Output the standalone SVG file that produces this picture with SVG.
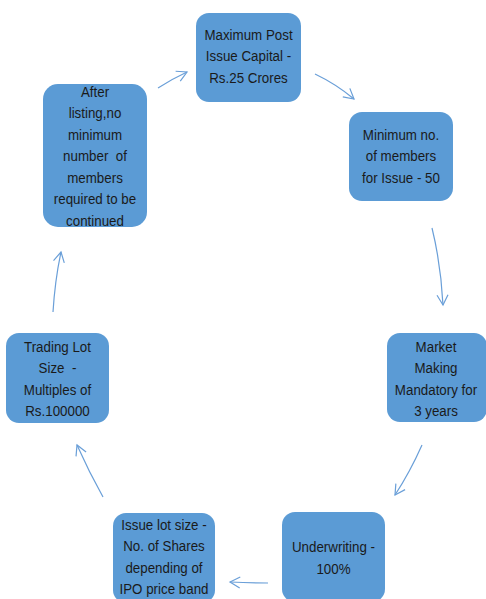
<svg xmlns="http://www.w3.org/2000/svg" width="486" height="599" viewBox="0 0 486 599">
<style>
.box{fill:#5B9BD5;}
.lbl{font-family:"Liberation Sans",Arial,sans-serif;font-size:15px;fill:#1a1a1a;text-anchor:middle;white-space:pre;}
.arr{fill:none;stroke:#6A9FD8;stroke-width:1.2;marker-end:url(#ah);}
</style>
<defs>
<marker id="ah" viewBox="-12 -7 14 14" refX="0" refY="0" markerWidth="14" markerHeight="14" markerUnits="userSpaceOnUse" orient="auto">
<path d="M-10,-5.5 L0,0 L-10,5.5" fill="none" stroke="#6A9FD8" stroke-width="1.2"/>
</marker>
</defs>
<rect width="486" height="599" fill="#ffffff"/>
<g id="connectors">
<path class="arr" d="M158,88 Q172,79 187,72"/>
<path class="arr" d="M315,74 Q336,84 354,99"/>
<path class="arr" d="M432,228 Q441,265 443,305"/>
<path class="arr" d="M422,445 Q410,472 395,495"/>
<path class="arr" d="M268,583 Q249,583 230,582"/>
<path class="arr" d="M103,497 Q89,472 77,445"/>
<path class="arr" d="M53,312 Q55,280 61,252"/>
</g>
<g id="node1">
<rect class="box" x="196" y="13" width="105" height="89" rx="13"/>
<text class="lbl" transform="translate(248.5 0) scale(0.89 1)" y="40">Maximum Post</text>
<text class="lbl" transform="translate(248.5 0) scale(0.89 1)" y="61.5">Issue Capital -</text>
<text class="lbl" transform="translate(248.5 0) scale(0.89 1)" y="83">Rs.25 Crores</text>
</g>
<g id="node2">
<rect class="box" x="349" y="112" width="104" height="89" rx="13"/>
<text class="lbl" transform="translate(401 0) scale(0.89 1)" y="140">Minimum no.</text>
<text class="lbl" transform="translate(401 0) scale(0.89 1)" y="161.5">of members</text>
<text class="lbl" transform="translate(401 0) scale(0.89 1)" y="183">for Issue - 50</text>
</g>
<g id="node3">
<rect class="box" x="387" y="333" width="100" height="89" rx="13"/>
<text class="lbl" transform="translate(436 0) scale(0.89 1)" y="352">Market</text>
<text class="lbl" transform="translate(436 0) scale(0.89 1)" y="373.5">Making</text>
<text class="lbl" transform="translate(436 0) scale(0.89 1)" y="395">Mandatory for</text>
<text class="lbl" transform="translate(436 0) scale(0.89 1)" y="416.5">3 years</text>
</g>
<g id="node4">
<rect class="box" x="282" y="512" width="103" height="90" rx="13"/>
<text class="lbl" transform="translate(333.5 0) scale(0.89 1)" y="552.5">Underwriting -</text>
<text class="lbl" transform="translate(333.5 0) scale(0.89 1)" y="574">100%</text>
</g>
<g id="node5">
<rect class="box" x="113" y="513" width="102" height="90" rx="13"/>
<text class="lbl" transform="translate(164 0) scale(0.89 1)" y="530">Issue lot size -</text>
<text class="lbl" transform="translate(164 0) scale(0.89 1)" y="551.5">No. of Shares</text>
<text class="lbl" transform="translate(164 0) scale(0.89 1)" y="573">depending of</text>
<text class="lbl" transform="translate(164 0) scale(0.89 1)" y="594.5">IPO price band</text>
</g>
<g id="node6">
<rect class="box" x="6" y="333" width="103" height="90" rx="13"/>
<text class="lbl" transform="translate(57.5 0) scale(0.89 1)" y="352">Trading Lot</text>
<text class="lbl" transform="translate(57.5 0) scale(0.89 1)" y="373.5">Size  -</text>
<text class="lbl" transform="translate(57.5 0) scale(0.89 1)" y="395">Multiples of</text>
<text class="lbl" transform="translate(57.5 0) scale(0.89 1)" y="416.5">Rs.100000</text>
</g>
<g id="node7">
<rect class="box" x="43" y="84" width="104" height="143" rx="15"/>
<text class="lbl" transform="translate(95 0) scale(0.89 1)" y="97">After</text>
<text class="lbl" transform="translate(95 0) scale(0.89 1)" y="118.5">listing,no</text>
<text class="lbl" transform="translate(95 0) scale(0.89 1)" y="140">minimum</text>
<text class="lbl" transform="translate(95 0) scale(0.89 1)" y="161.5">number  of</text>
<text class="lbl" transform="translate(95 0) scale(0.89 1)" y="183">members</text>
<text class="lbl" transform="translate(95 0) scale(0.89 1)" y="204.5">required to be</text>
<text class="lbl" transform="translate(95 0) scale(0.89 1)" y="226">continued</text>
</g>
</svg>
